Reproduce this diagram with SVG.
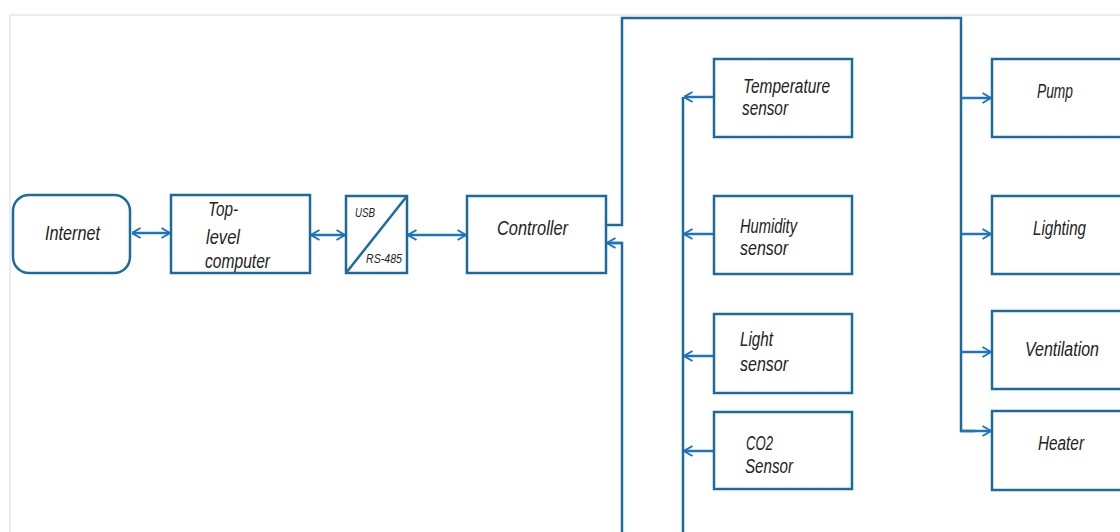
<svg xmlns="http://www.w3.org/2000/svg" width="1120" height="532" viewBox="0 0 1120 532">
<defs>
<marker id="arr" viewBox="0 0 10 12" refX="9.5" refY="6" markerWidth="10" markerHeight="12" markerUnits="userSpaceOnUse" orient="auto-start-reverse">
<path d="M1,1 L9.5,6 L1,11" fill="none" stroke="#1e74bd" stroke-width="2"/>
</marker>
<style>
.box{fill:#fff;stroke:#1d6b9c;stroke-width:2.5}
.ln{fill:none;stroke:#1d6b9c;stroke-width:2.5}
.ar{fill:none;stroke:#1e74bd;stroke-width:2.5}
.t{font-family:"Liberation Sans",Arial,sans-serif;font-style:italic;font-size:20px;fill:#222}
.s{font-size:12px}
.frame{fill:none;stroke:#d5dadd;stroke-width:1}
</style>
</defs>
<rect width="1120" height="532" fill="#fff"/>
<path class="frame" d="M10,532 V15 H1120"/>
<g id="connectors">
<line class="ar" x1="132" y1="233" x2="170" y2="233" marker-start="url(#arr)" marker-end="url(#arr)"/>
<line class="ar" x1="311" y1="235" x2="345" y2="235" marker-start="url(#arr)" marker-end="url(#arr)"/>
<line class="ar" x1="408" y1="235" x2="466" y2="235" marker-start="url(#arr)" marker-end="url(#arr)"/>
<path class="ln" d="M606,225 H622 V18 H961 V431 H975"/>
<line class="ar" x1="961" y1="431" x2="991" y2="431" marker-end="url(#arr)"/>
<line class="ar" x1="961" y1="98" x2="991" y2="98" marker-end="url(#arr)"/>
<line class="ar" x1="961" y1="234" x2="991" y2="234" marker-end="url(#arr)"/>
<line class="ar" x1="961" y1="352" x2="991" y2="352" marker-end="url(#arr)"/>
<path class="ln" d="M622,532 V243 H612"/>
<line class="ar" x1="622" y1="243" x2="607" y2="243" marker-end="url(#arr)"/>
<line class="ln" x1="683" y1="97" x2="683" y2="532"/>
<line class="ar" x1="714" y1="97" x2="684" y2="97" marker-end="url(#arr)"/>
<line class="ar" x1="714" y1="234" x2="684" y2="234" marker-end="url(#arr)"/>
<line class="ar" x1="714" y1="356" x2="684" y2="356" marker-end="url(#arr)"/>
<line class="ar" x1="714" y1="451" x2="684" y2="451" marker-end="url(#arr)"/>
</g>
<g id="internet">
<rect class="box" x="13" y="195" width="117" height="78" rx="16"/>
<text class="t" x="45" y="240" textLength="55" lengthAdjust="spacingAndGlyphs">Internet</text>
</g>
<g id="top-level-computer">
<rect class="box" x="171" y="195" width="139" height="78"/>
<text class="t" x="208" y="216" textLength="30" lengthAdjust="spacingAndGlyphs">Top-</text>
<text class="t" x="206" y="244" textLength="34" lengthAdjust="spacingAndGlyphs">level</text>
<text class="t" x="205" y="268" textLength="65" lengthAdjust="spacingAndGlyphs">computer</text>
</g>
<g id="usb-rs485">
<rect class="box" x="346" y="196" width="61" height="77"/>
<line class="ln" x1="346" y1="273" x2="407" y2="196"/>
<text class="t s" x="355" y="217" textLength="20" lengthAdjust="spacingAndGlyphs">USB</text>
<text class="t s" x="366" y="263" textLength="36" lengthAdjust="spacingAndGlyphs">RS-485</text>
</g>
<g id="controller">
<rect class="box" x="467" y="196" width="139" height="77"/>
<text class="t" x="497" y="235" textLength="71" lengthAdjust="spacingAndGlyphs">Controller</text>
</g>
<g id="temperature-sensor">
<rect class="box" x="714" y="59" width="138" height="78"/>
<text class="t" x="743" y="93" textLength="87" lengthAdjust="spacingAndGlyphs">Temperature</text>
<text class="t" x="742" y="115" textLength="46" lengthAdjust="spacingAndGlyphs">sensor</text>
</g>
<g id="humidity-sensor">
<rect class="box" x="714" y="196" width="138" height="78"/>
<text class="t" x="740" y="233" textLength="57" lengthAdjust="spacingAndGlyphs">Humidity</text>
<text class="t" x="740" y="255" textLength="48" lengthAdjust="spacingAndGlyphs">sensor</text>
</g>
<g id="light-sensor">
<rect class="box" x="714" y="314" width="138" height="79"/>
<text class="t" x="740" y="346" textLength="33" lengthAdjust="spacingAndGlyphs">Light</text>
<text class="t" x="740" y="371" textLength="48" lengthAdjust="spacingAndGlyphs">sensor</text>
</g>
<g id="co2-sensor">
<rect class="box" x="714" y="412" width="138" height="77"/>
<text class="t" x="746" y="450" textLength="27" lengthAdjust="spacingAndGlyphs">CO2</text>
<text class="t" x="745" y="473" textLength="48" lengthAdjust="spacingAndGlyphs">Sensor</text>
</g>
<g id="pump">
<rect class="box" x="992" y="59" width="140" height="78"/>
<text class="t" x="1037" y="98" textLength="36" lengthAdjust="spacingAndGlyphs">Pump</text>
</g>
<g id="lighting">
<rect class="box" x="992" y="196" width="140" height="78"/>
<text class="t" x="1033" y="235" textLength="53" lengthAdjust="spacingAndGlyphs">Lighting</text>
</g>
<g id="ventilation">
<rect class="box" x="992" y="311" width="140" height="78"/>
<text class="t" x="1025" y="356" textLength="74" lengthAdjust="spacingAndGlyphs">Ventilation</text>
</g>
<g id="heater">
<rect class="box" x="992" y="411" width="140" height="79"/>
<text class="t" x="1038" y="450" textLength="46" lengthAdjust="spacingAndGlyphs">Heater</text>
</g>
</svg>
